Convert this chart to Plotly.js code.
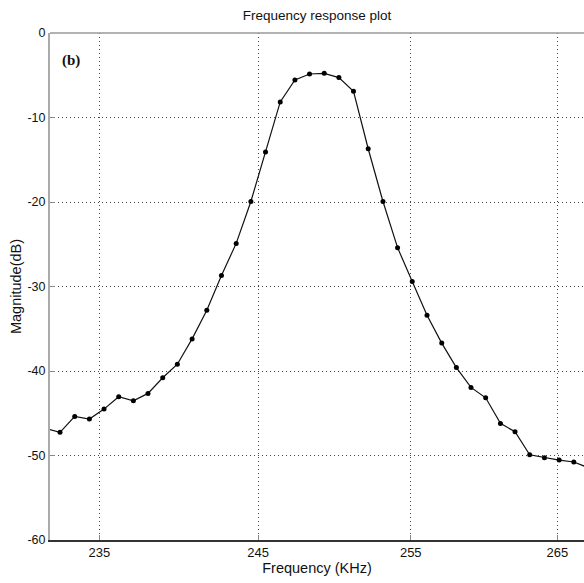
<!DOCTYPE html>
<html>
<head>
<meta charset="utf-8">
<script src="https://cdn.plot.ly/plotly-3.0.1.min.js"></script>
<style>html,body{margin:0;padding:0;background:#fff;}#chart{width:584px;height:583px;}</style>
</head>
<body>
<div id="chart"></div>
<script>
// Frequency (kHz) of each measured point
var frequency = [231.70, 232.59, 233.49, 234.39, 235.29, 236.20, 237.11, 238.02, 238.94, 239.86,
  240.79, 241.72, 242.65, 243.59, 244.53, 245.47, 246.42, 247.37, 248.32, 249.28,
  250.24, 251.20, 252.17, 253.15, 254.12, 255.10, 256.09, 257.08, 258.07, 259.06,
  260.06, 261.07, 262.07, 263.08, 264.10, 265.12, 266.14, 267.17];
// Magnitude (dB)
var magnitude = [-46.8, -47.26, -45.37, -45.69, -44.51, -43.05, -43.52, -42.65, -40.8, -39.2,
  -36.2, -32.8, -28.7, -24.9, -19.94, -14.07, -8.16, -5.56, -4.85, -4.77,
  -5.28, -6.9, -13.7, -19.94, -25.4, -29.4, -33.4, -36.7, -39.6, -41.94,
  -43.17, -46.2, -47.19, -49.91, -50.27, -50.54, -50.77, -51.45];

var xTicks = [235, 245, 255, 265];
var xTickText = ["235", "245", "255", "265"];
var yTicks = [0, -10, -20, -30, -40, -50, -60];
var yTickText = ["0", "-10", "-20", "-30", "-40", "-50", "-60"];

var trace = {
  x: frequency, y: magnitude, type: 'scatter', mode: 'lines+markers',
  line: {color: '#111', width: 1.2},
  marker: {color: '#000', size: 5},
  cliponaxis: true, hoverinfo: 'skip'
};

var font = {family: 'Liberation Sans, Arial, sans-serif', color: '#111'};

var layout = {
  width: 584, height: 583,
  margin: {l: 50, r: 0, t: 33, b: 43, pad: 0},
  paper_bgcolor: '#fff', plot_bgcolor: '#fff',
  showlegend: false,
  title: {text: 'Frequency response plot', font: Object.assign({size: 13.5}, font), xref: 'paper', x: 0.5, xanchor: 'center', y: 0.974, yanchor: 'middle'},
  xaxis: {
    type: 'log', autorange: false, range: [2.365453, 2.426273],
    tickvals: xTicks, ticktext: xTickText,
    tickfont: Object.assign({size: 13}, font),
    ticks: 'inside', ticklen: 5, tickcolor: '#888', tickwidth: 1,
    showgrid: true, gridcolor: '#444', griddash: '1px,3px', gridwidth: 1,
    showline: true, linecolor: '#333', linewidth: 1.5,
    zeroline: false,
    title: {text: 'Frequency (KHz)', font: Object.assign({size: 14.5}, font), standoff: 3}
  },
  yaxis: {
    autorange: false, range: [-60, 0],
    tickvals: yTicks, ticktext: yTickText,
    tickfont: Object.assign({size: 12.5}, font),
    ticks: 'inside', ticklen: 5, tickcolor: '#888', tickwidth: 1,
    showgrid: true, gridcolor: '#444', griddash: '1px,3px', gridwidth: 1,
    showline: true, linecolor: '#aaa', linewidth: 2,
    zeroline: false,
    title: {text: 'Magnitude(dB)', font: Object.assign({size: 14.5}, font), standoff: 2}
  },
  shapes: [
    {type: 'line', xref: 'paper', yref: 'paper', x0: 0, x1: 1, y0: 1, y1: 1,
     line: {color: '#999', width: 1.5}}
  ],
  annotations: [
    {text: '<b>(b)</b>', xref: 'paper', yref: 'paper', x: 0.04, y: 0.945,
     xanchor: 'center', yanchor: 'middle', showarrow: false,
     font: {family: 'Liberation Serif, Times New Roman, serif', size: 15, color: '#111'}}
  ]
};

Plotly.newPlot('chart', [trace], layout, {displayModeBar: false, staticPlot: true});
</script>
</body>
</html>
